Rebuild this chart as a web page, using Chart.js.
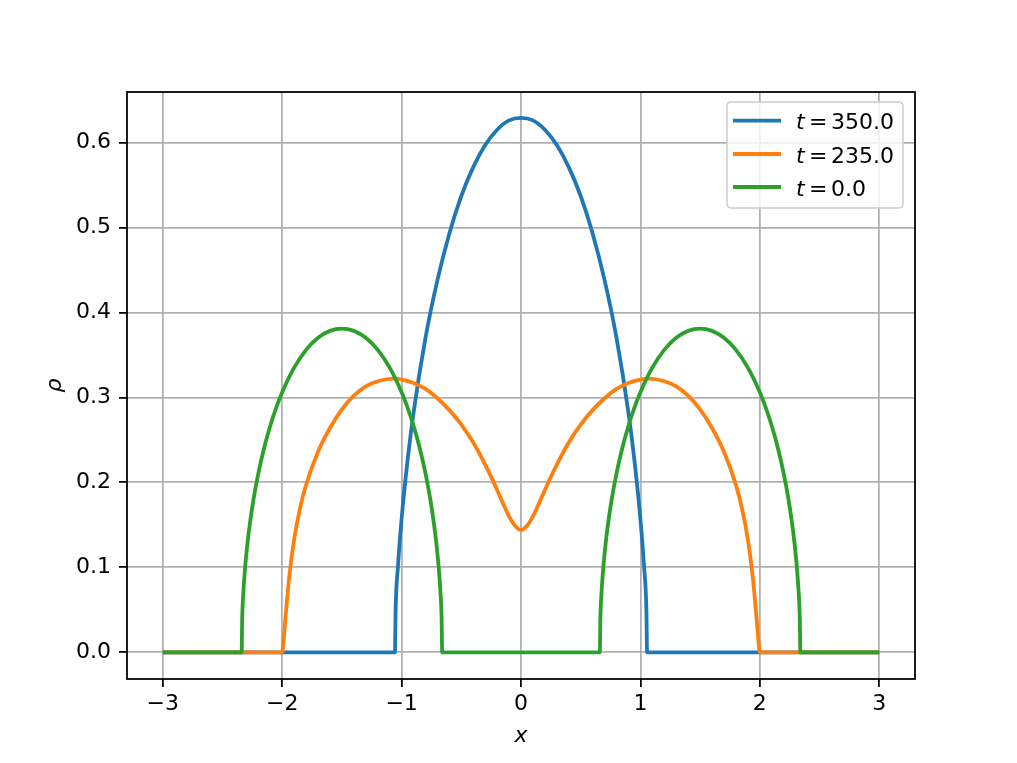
<!DOCTYPE html>
<html>
<head>
<meta charset="utf-8">
<script src="https://cdn.jsdelivr.net/npm/chart.js@4/dist/chart.umd.min.js"></script>
<style>
  html, body { margin: 0; padding: 0; background: #ffffff; }
  canvas { display: block; }
</style>
</head>
<body>
<canvas id="c" width="1017" height="763"></canvas>
<script>
// ---- Data ----
const seriesLabels = ['350.0', '235.0', '0.0'];
const seriesColors = ['#1f77b4', '#ff7f0e', '#2ca02c'];

const blueX = [-3, -1.056, -1.05, -1.03, -1.0, -0.95, -0.9, -0.8, -0.7, -0.6, -0.5, -0.4, -0.3, -0.2, -0.1, 0,
               0.1, 0.2, 0.3, 0.4, 0.5, 0.6, 0.7, 0.8, 0.9, 0.95, 1.0, 1.03, 1.05, 1.056, 3];
const blueY = [0, 0, 0.051, 0.102, 0.157, 0.226, 0.282, 0.370, 0.438, 0.493, 0.537, 0.571, 0.597, 0.615, 0.626, 0.629,
               0.626, 0.615, 0.597, 0.571, 0.537, 0.493, 0.438, 0.370, 0.282, 0.226, 0.157, 0.102, 0.051, 0, 0];

const orangeX = [-3, -2.0, -1.99, -1.97, -1.94, -1.9, -1.85, -1.8, -1.7, -1.6, -1.5, -1.4, -1.3, -1.2, -1.07,
                 -1.0, -0.9, -0.8, -0.7, -0.6, -0.5, -0.4, -0.3, -0.25, -0.2, -0.15, -0.1, -0.05, 0,
                 0.05, 0.1, 0.15, 0.2, 0.25, 0.3, 0.4, 0.5, 0.6, 0.7, 0.8, 0.9, 1.0,
                 1.07, 1.2, 1.3, 1.4, 1.5, 1.6, 1.7, 1.8, 1.85, 1.9, 1.94, 1.97, 1.99, 2.0, 3];
const orangeY = [0, 0, 0.012, 0.045, 0.090, 0.133, 0.170, 0.197, 0.236, 0.264, 0.286, 0.302, 0.313, 0.319, 0.322,
                 0.321, 0.317, 0.310, 0.299, 0.285, 0.268, 0.247, 0.221, 0.2065, 0.191, 0.175, 0.160, 0.149, 0.144,
                 0.149, 0.160, 0.175, 0.191, 0.2065, 0.221, 0.247, 0.268, 0.285, 0.299, 0.310, 0.317, 0.321,
                 0.322, 0.319, 0.313, 0.302, 0.286, 0.264, 0.236, 0.197, 0.170, 0.133, 0.090, 0.045, 0.012, 0, 0];

const greenX = [-3, -2.34, -2.335, -2.325, -2.31, -2.29, -2.27, -2.24, -2.2, -2.15, -2.1, -2.05, -2.0, -1.9, -1.8, -1.7, -1.6, -1.5,
                -1.4, -1.3, -1.2, -1.1, -1.0, -0.95, -0.9, -0.85, -0.8, -0.76, -0.73, -0.71, -0.69, -0.675, -0.665, -0.66,
                0.66, 0.665, 0.675, 0.69, 0.71, 0.73, 0.76, 0.8, 0.85, 0.9, 0.95, 1.0, 1.1, 1.2, 1.3, 1.4, 1.5,
                1.6, 1.7, 1.8, 1.9, 2.0, 2.05, 2.1, 2.15, 2.2, 2.24, 2.27, 2.29, 2.31, 2.325, 2.335, 2.34, 3];
const greenY = [0, 0, 0.0415, 0.0717, 0.1009, 0.1295, 0.1523, 0.1803, 0.2106, 0.2413, 0.2667, 0.288, 0.3061, 0.335, 0.3559, 0.3701, 0.3783, 0.381,
                0.3783, 0.3701, 0.3559, 0.335, 0.3061, 0.288, 0.2667, 0.2413, 0.2106, 0.1803, 0.1523, 0.1295, 0.1009, 0.0717, 0.0415, 0,
                0, 0.0415, 0.0717, 0.1009, 0.1295, 0.1523, 0.1803, 0.2106, 0.2413, 0.2667, 0.288, 0.3061, 0.335, 0.3559, 0.3701, 0.3783, 0.381,
                0.3783, 0.3701, 0.3559, 0.335, 0.3061, 0.288, 0.2667, 0.2413, 0.2106, 0.1803, 0.1523, 0.1295, 0.1009, 0.0717, 0.0415, 0, 0];

const xTicks = [-3, -2, -1, 0, 1, 2, 3];
const xTickLabels = ['\u22123', '\u22122', '\u22121', '0', '1', '2', '3'];
const yTicks = [0, 0.1, 0.2, 0.3, 0.4, 0.5, 0.6];
const yTickLabels = ['0.0', '0.1', '0.2', '0.3', '0.4', '0.5', '0.6'];
const xLabel = 'x';
const yLabel = '\u03c1';

// ---- Build ----
function pts(xs, ys) { return xs.map((x, i) => ({ x: x, y: ys[i] })); }

const FONT = 'DejaVu Sans';
const LW = 3.8;

const datasets = [
  { label: seriesLabels[0], data: pts(blueX, blueY), borderColor: seriesColors[0], order: 2 },
  { label: seriesLabels[1], data: pts(orangeX, orangeY), borderColor: seriesColors[1], order: 1 },
  { label: seriesLabels[2], data: pts(greenX, greenY), borderColor: seriesColors[2], order: 0 }
].map(d => Object.assign(d, {
  borderWidth: LW, pointRadius: 0, fill: false, cubicInterpolationMode: 'monotone',
  borderJoinStyle: 'round', borderCapStyle: 'butt'
}));

const framePlugin = {
  id: 'frame',
  beforeDraw(chart) {
    const c = chart.ctx;
    c.save(); c.fillStyle = '#ffffff'; c.fillRect(0, 0, chart.width, chart.height); c.restore();
  },
  afterDatasetsDraw(chart) {
    const c = chart.ctx, a = chart.chartArea;
    c.save();
    c.strokeStyle = '#000000'; c.lineWidth = 1.77;
    c.strokeRect(a.left, a.top, a.right - a.left, a.bottom - a.top);
    c.restore();
  },
  afterDraw(chart) {
    const c = chart.ctx, a = chart.chartArea;
    c.save();
    // axis titles
    c.fillStyle = '#000000';
    c.font = 'italic 22px "' + FONT + '"';
    c.textAlign = 'center'; c.textBaseline = 'alphabetic';
    c.fillText(xLabel, (a.left + a.right) / 2, 742);
    c.save();
    c.translate(61, (a.top + a.bottom) / 2);
    c.rotate(-Math.PI / 2);
    c.fillText(yLabel, 0, 0);
    c.restore();

    // legend
    const bx = 727, by = 102, bw = 176, bh = 106, r = 4.4;
    c.beginPath();
    c.moveTo(bx + r, by);
    c.lineTo(bx + bw - r, by); c.quadraticCurveTo(bx + bw, by, bx + bw, by + r);
    c.lineTo(bx + bw, by + bh - r); c.quadraticCurveTo(bx + bw, by + bh, bx + bw - r, by + bh);
    c.lineTo(bx + r, by + bh); c.quadraticCurveTo(bx, by + bh, bx, by + bh - r);
    c.lineTo(bx, by + r); c.quadraticCurveTo(bx, by, bx + r, by);
    c.closePath();
    c.fillStyle = 'rgba(255,255,255,0.8)'; c.fill();
    c.strokeStyle = '#cccccc'; c.lineWidth = 1.5; c.stroke();

    const rows = [120.7, 154.0, 187.0];
    seriesLabels.forEach((lab, i) => {
      const y = rows[i];
      c.beginPath(); c.moveTo(733, y); c.lineTo(781, y);
      c.strokeStyle = seriesColors[i]; c.lineWidth = LW; c.lineCap = 'butt'; c.stroke();
      c.fillStyle = '#000000'; c.textAlign = 'left'; c.textBaseline = 'alphabetic';
      c.font = 'italic 22px "' + FONT + '"';
      c.fillText('t', 796, y + 8.5);
      c.font = '22px "' + FONT + '"';
      c.fillText('=', 809, y + 8.5);
      c.fillText(lab, 831, y + 8.5);
    });
    c.restore();
  }
};

const tickFont = { family: FONT, size: 22 };

new Chart(document.getElementById('c'), {
  type: 'line',
  data: { datasets },
  plugins: [framePlugin],
  options: {
    responsive: false,
    animation: false,
    devicePixelRatio: 1,
    layout: { padding: { top: 92, right: 102, left: 0, bottom: 0 } },
    plugins: { legend: { display: false }, tooltip: { enabled: false }, title: { display: false } },
    scales: {
      x: {
        type: 'linear', min: -3.3, max: 3.3,
        afterBuildTicks: s => { s.ticks = xTicks.map(v => ({ value: v })); },
        afterFit: s => { s.height = 84; },
        grid: { color: '#b0b0b0', lineWidth: 1.77, drawTicks: true, tickLength: 8, tickColor: '#000000', tickWidth: 1.77 },
        border: { display: false },
        ticks: { font: tickFont, color: '#000000', padding: 4, maxRotation: 0, autoSkip: false,
                 callback: (v, i) => xTickLabels[i] }
      },
      y: {
        type: 'linear', min: -0.0314, max: 0.6594,
        afterBuildTicks: s => { s.ticks = yTicks.map(v => ({ value: v })); },
        afterFit: s => { s.width = 127; },
        grid: { color: '#b0b0b0', lineWidth: 1.77, drawTicks: true, tickLength: 8, tickColor: '#000000', tickWidth: 1.77 },
        border: { display: false },
        ticks: { font: tickFont, color: '#000000', padding: 8, autoSkip: false,
                 callback: (v, i) => yTickLabels[i] }
      }
    }
  }
});
</script>
</body>
</html>
